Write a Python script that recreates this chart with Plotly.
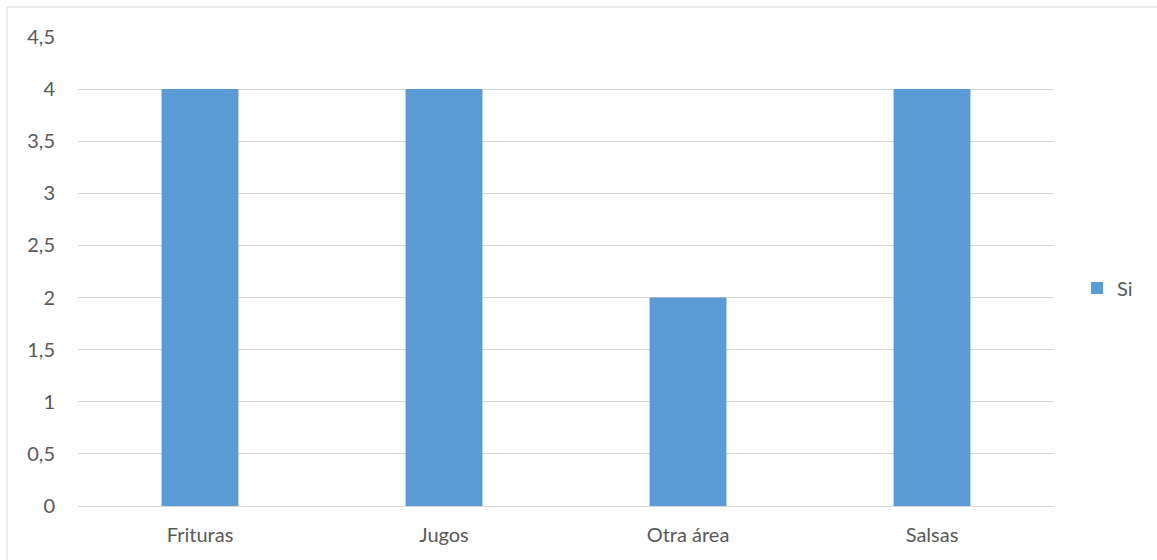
import plotly.graph_objects as go

categories = ["Frituras", "Jugos", "Otra área", "Salsas"]
si_values = [4, 4, 2, 4]
y_ticks = [0, 0.5, 1, 1.5, 2, 2.5, 3, 3.5, 4, 4.5]

W, H = 1157, 560
L, R, T, B = 78, 103, 37, 54
pw, ph = W - L - R, H - T - B

fig = go.Figure()
fig.add_trace(go.Bar(
    x=categories, y=si_values, name="Si",
    marker=dict(color="#5B9BD5", line=dict(width=0)),
    width=0.315,
))

fig.update_layout(
    width=W, height=H,
    margin=dict(l=L, r=R, t=T, b=B, pad=0, autoexpand=False),
    paper_bgcolor="white", plot_bgcolor="white",
    separators=",.",
    font=dict(family="Lato", size=20, color="#595959"),
    showlegend=True,
    legend=dict(
        x=(1077 - L) / pw, y=(506 - 288) / ph, xanchor="left", yanchor="middle",
        font=dict(size=20, color="#595959"), itemwidth=30,
    ),
    xaxis=dict(
        showgrid=False, showline=True, linecolor="#D9D9D9", linewidth=1,
        ticks="", ticklabelstandoff=11, tickfont=dict(size=20),
    ),
    yaxis=dict(
        range=[0, 4.5], tickvals=y_ticks, showgrid=True, gridcolor="#D9D9D9",
        gridwidth=1, zeroline=False, showline=False, ticks="",
        ticklabelstandoff=22, tickfont=dict(size=20),
    ),
    shapes=[dict(
        type="rect", xref="paper", yref="paper",
        x0=(7 - L) / pw, x1=(W + 5 - L) / pw,
        y0=(H - B - H - 5) / ph, y1=(H - B - 7) / ph,
        line=dict(color="#D9D9D9", width=1), fillcolor="rgba(0,0,0,0)",
        layer="below",
    )],
)

fig.write_html("out.html")
